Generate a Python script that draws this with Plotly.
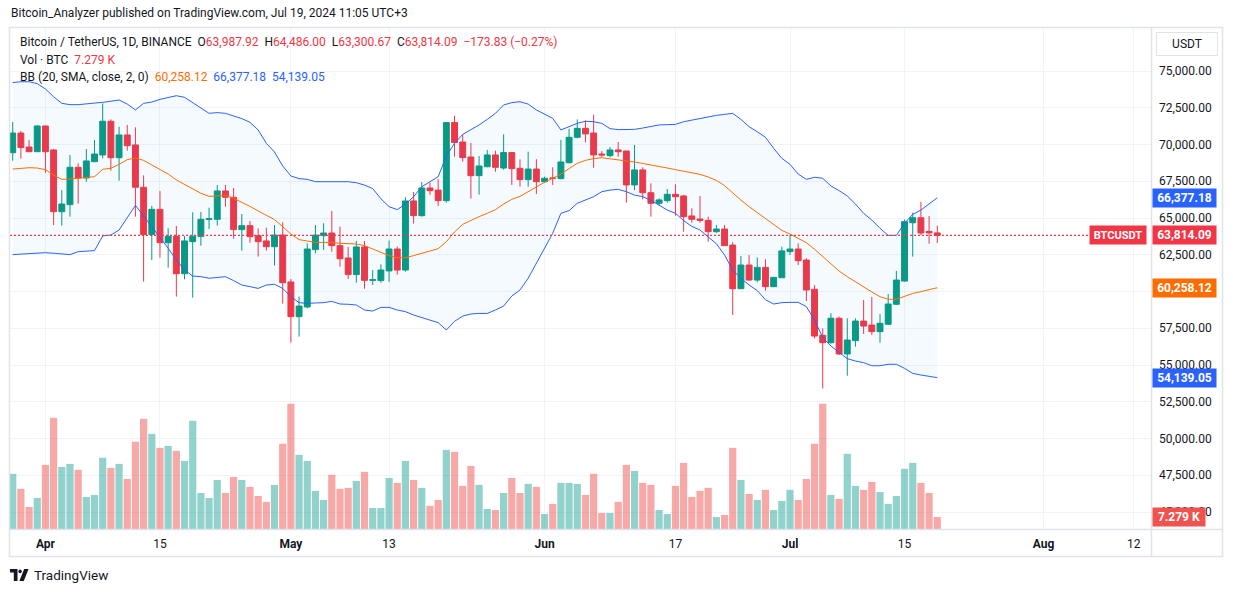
import plotly.graph_objects as go
import pandas as pd

# ---------------- data ----------------
start_date = "2024-03-28"

opens = [
    69445, 70780, 69830, 69510, 71260, 69630, 65430, 65910, 68450, 67720,
    68830, 69290, 71580, 69100, 70650, 69970, 67090, 63870, 65590, 63320,
    63750, 61210, 63390, 63750, 64910, 64910, 66840, 66410, 64210, 64480,
    63800, 63440, 63050, 63840, 60650, 58290, 58950, 62850, 63800, 63980,
    63120, 62280, 61150, 63030, 60760, 60740, 61400, 62890, 61460, 66160,
    65160, 67040, 66900, 66180, 71490, 70170, 69150, 67880, 68490, 69290,
    68400, 69450, 68380, 67610, 68330, 67470, 67720, 67680, 68760, 70490,
    71100, 70780, 69350, 69240, 69630, 69560, 67250, 68270, 66720, 66000,
    66180, 66610, 66500, 65140, 64930, 64840, 64070, 64250, 63160, 60190,
    61800, 60780, 61640, 60330, 60940, 62710, 62890, 62140, 60150, 57020,
    56520, 58180, 55750, 56660, 57990, 57720, 57270, 57770, 59130, 60710,
    64680, 65020, 64090, 63987.92]

highs = [
    71530, 70920, 70310, 71330, 71290, 69690, 66900, 69290, 68720, 69690,
    70310, 72800, 71710, 71210, 71330, 71170, 67900, 65820, 66840, 64300,
    64460, 63780, 65390, 65410, 65700, 67250, 67250, 67040, 65270, 64800,
    64300, 64340, 64520, 64700, 60850, 59650, 63280, 64520, 64640, 65480,
    64410, 63030, 63440, 63440, 61460, 61850, 63460, 63050, 66410, 66770,
    67450, 67400, 67650, 71500, 71960, 70690, 70100, 69220, 69630, 69580,
    70690, 69500, 68990, 69510, 69000, 67810, 68450, 70310, 71060, 71710,
    71640, 72030, 69560, 69830, 70170, 69560, 69970, 68450, 67360, 66340,
    66970, 67290, 66570, 65660, 66500, 65090, 64520, 64520, 63350, 62420,
    62480, 62320, 62190, 61000, 63050, 63840, 63280, 62260, 60440, 57490,
    58520, 58290, 58180, 58180, 59420, 59630, 58470, 59830, 61400, 64900,
    65360, 66090, 65140, 64486.00]

lows = [
    68900, 69040, 69500, 69500, 68080, 64520, 64480, 65090, 65980, 67470,
    68800, 69060, 68220, 67540, 69580, 65090, 60670, 62140, 62300, 61620,
    59650, 60830, 59580, 63120, 64250, 64480, 65770, 63590, 62780, 63320,
    62370, 62780, 61760, 59170, 56520, 56930, 58850, 62600, 62820, 62710,
    61690, 60850, 60600, 60190, 60440, 60600, 60650, 61150, 61350, 64620,
    65090, 66570, 65820, 66040, 69170, 68830, 66320, 66590, 68450, 68150,
    68290, 67250, 67130, 67130, 66630, 67400, 67250, 67630, 68720, 70420,
    70150, 68420, 69130, 69130, 69170, 66040, 66900, 66270, 65090, 65840,
    66040, 65160, 64070, 64680, 64680, 63390, 63980, 63120, 58400, 60190,
    60740, 60620, 60060, 60300, 60940, 62480, 61800, 59350, 56810, 53410,
    56450, 55680, 54270, 56250, 57110, 57040, 56520, 57720, 59080, 60670,
    62370, 63840, 63250, 63300.67]

closes = [
    70780, 69790, 69510, 71260, 69510, 65430, 65950, 68450, 67720, 68880,
    69350, 71580, 69100, 70650, 69920, 67090, 63870, 65590, 63320, 63750,
    61210, 63440, 63750, 64910, 64950, 66840, 66410, 64210, 64480, 63730,
    63390, 63050, 63840, 60600, 58290, 59010, 62890, 63840, 63980, 63120,
    62230, 61150, 63030, 60760, 60800, 61460, 62890, 61460, 66160, 65160,
    67040, 66860, 66180, 71490, 70130, 69110, 67880, 68540, 69290, 68450,
    69450, 68360, 67610, 68330, 67470, 67700, 67700, 68810, 70490, 71100,
    70720, 69290, 69290, 69630, 69510, 67250, 68270, 66720, 66000, 66230,
    66610, 66450, 65090, 64910, 64840, 64070, 64250, 63120, 60190, 61800,
    60780, 61640, 60330, 60960, 62760, 62890, 62100, 60100, 56970, 56520,
    58180, 55750, 56700, 57990, 57650, 57270, 57840, 59150, 60780, 64750,
    65020, 63980, 63987.92, 63814.09]

# volume in thousands of BTC
volumes_k = [
    33.4, 24.3, 13.3, 18.8, 38.8, 67.3, 37.6, 39.4, 35.8, 19.4,
    20.6, 43.1, 37.0, 39.4, 30.3, 52.8, 66.7, 57.6, 49.1, 50.3,
    47.3, 41.2, 65.5, 21.8, 18.8, 29.7, 21.8, 31.5, 29.7, 25.5,
    20.0, 16.4, 26.7, 51.6, 75.8, 44.9, 41.2, 23.1, 17.6, 32.8,
    24.3, 24.9, 29.1, 34.6, 12.7, 12.7, 30.9, 27.9, 41.2, 29.7,
    24.9, 14.0, 17.6, 47.9, 46.7, 26.1, 38.2, 26.7, 12.1, 11.5,
    21.8, 30.9, 21.8, 27.3, 25.5, 9.1, 15.2, 27.9, 27.9, 27.3,
    20.6, 33.4, 9.7, 9.7, 16.4, 38.8, 35.2, 27.9, 26.7, 11.5,
    9.1, 26.1, 40.0, 19.4, 23.1, 24.9, 7.3, 8.5, 49.1, 29.7,
    21.2, 17.6, 23.7, 11.5, 17.0, 23.7, 17.6, 30.3, 51.6, 75.8,
    20.6, 18.2, 45.5, 26.1, 23.7, 28.5, 22.4, 15.2, 20.0, 36.4,
    40.0, 27.9, 21.8, 7.279]

bb_upper = [
    74210, 74270, 74270, 74140, 73780, 73250, 72800, 72710, 72710, 72750,
    72820, 72870, 72940, 73030, 72750, 72350, 72800, 72890, 73070, 73210,
    73320, 73210, 72850, 72440, 72120, 72170, 72120, 71940, 71760, 71510,
    70990, 70080, 69490, 68540, 67860, 67680, 67630, 67470, 67470, 67470,
    67470, 67470, 67400, 67240, 67000, 66310, 65770, 65570, 65950, 66450,
    67130, 67470, 67810, 69220, 70080, 70690, 70990, 71330, 71710, 72120,
    72690, 72850, 72910, 72750, 72350, 72070, 71780, 70990, 71210, 71440,
    71580, 71550, 71440, 71080, 71010, 71030, 71030, 71120, 71210, 71330,
    71350, 71370, 71550, 71670, 71780, 71890, 71980, 72050, 72120, 71710,
    71210, 70870, 70490, 69740, 69060, 68650, 67990, 67630, 67770, 67700,
    67180, 66860, 66500, 65950, 65320, 64860, 64300, 63820, 63820, 64640,
    65250, 65540, 65950, 66377.18]

bb_basis = [
    68330, 68380, 68420, 68400, 68290, 67920, 67630, 67650, 67720, 67740,
    67810, 68310, 68380, 68650, 68970, 69080, 68920, 68610, 68310, 67990,
    67590, 67290, 66970, 66680, 66470, 66520, 66540, 66340, 66090, 65790,
    65480, 65160, 64890, 64410, 63910, 63530, 63410, 63340, 63340, 63340,
    63280, 63250, 63230, 63120, 62890, 62640, 62440, 62300, 62300, 62440,
    62600, 62750, 62910, 63390, 64050, 64570, 64840, 65090, 65320, 65570,
    65950, 66270, 66470, 66790, 67150, 67430, 67700, 67990, 68360, 68720,
    68920, 69040, 69100, 69010, 68950, 68880, 68810, 68720, 68610, 68510,
    68400, 68290, 68170, 68060, 67970, 67790, 67560, 67200, 66700, 66220,
    65770, 65360, 64950, 64550, 64160, 63910, 63640, 63320, 62870, 62370,
    61920, 61390, 61010, 60650, 60310, 59970, 59650, 59470, 59470, 59690,
    59870, 59990, 60120, 60258.12]

bb_lower = [
    62510, 62530, 62550, 62600, 62640, 62600, 62550, 62510, 62710, 62750,
    62780, 63780, 63840, 64180, 65050, 65860, 65140, 64410, 63730, 62940,
    62140, 61460, 61050, 61010, 60900, 60960, 61010, 60740, 60440, 60330,
    60210, 60440, 60490, 60210, 59650, 59240, 59190, 59220, 59240, 59330,
    59150, 59130, 59080, 58740, 58670, 58920, 58920, 58740, 58630, 58400,
    58240, 58060, 57880, 57380, 57970, 58330, 58470, 58510, 58510, 58740,
    59010, 59690, 60100, 60900, 61920, 62940, 63960, 65320, 65500, 66000,
    66220, 66450, 66790, 66900, 66950, 66790, 66560, 66450, 66200, 65860,
    65540, 65320, 64820, 64430, 64180, 63710, 63250, 62480, 61460, 60900,
    60440, 60060, 59440, 59150, 59240, 59260, 59260, 58970, 58060, 56860,
    56290, 55860, 55430, 55270, 55160, 54950, 54950, 55050, 55050, 54770,
    54430, 54320, 54230, 54139.05]

price_ticks = [45000, 47500, 50000, 52500, 55000, 57500, 60000,
               62500, 65000, 67500, 70000, 72500, 75000]
# 60,000 is hidden behind the basis label in the reference
hidden_ticks = [60000]
x_tick_dates = ["2024-04-01", "2024-04-15", "2024-05-01", "2024-05-13",
                "2024-06-01", "2024-06-17", "2024-07-01", "2024-07-15",
                "2024-08-01", "2024-08-12"]
x_tick_labels = ["Apr", "15", "May", "13", "Jun", "17", "Jul", "15", "Aug", "12"]

# ---------------- style ----------------
UP = "#089981"
DOWN = "#f23645"
VOL_UP = "rgba(38,166,154,0.5)"
VOL_DOWN = "rgba(239,83,80,0.5)"
BLUE = "#2962ff"
ORANGE = "#ff6d00"
TXT = "#131722"
GRID = "#f0f3fa"
BORDER = "#e0e3eb"
FONT = "Roboto, 'Noto Sans', sans-serif"

W, H = 1233, 592
L, R, T, B = 10, 1151, 28, 529
PW, PH = R - L, B - T


def px(x):
    return (x - L) / PW


def py(y):
    return (B - y) / PH


dates = pd.date_range(start_date, periods=len(closes), freq="D")
vol_colors = [VOL_UP if c >= o else VOL_DOWN for o, c in zip(opens, closes)]

fig = go.Figure()
fig.add_trace(go.Bar(x=dates, y=volumes_k, marker=dict(color=vol_colors, line=dict(width=0)),
                     xaxis="x", yaxis="y", hoverinfo="skip"))
fig.add_trace(go.Candlestick(
    x=dates, open=opens, high=highs, low=lows, close=closes,
    xaxis="x", yaxis="y2",
    increasing=dict(line=dict(color=UP, width=1), fillcolor=UP),
    decreasing=dict(line=dict(color=DOWN, width=1), fillcolor=DOWN),
    whiskerwidth=0, hoverinfo="skip"))
fig.add_trace(go.Scatter(x=dates, y=bb_upper, mode="lines", xaxis="x", yaxis="y2",
                         line=dict(color=BLUE, width=1), hoverinfo="skip"))
fig.add_trace(go.Scatter(x=dates, y=bb_lower, mode="lines", xaxis="x", yaxis="y2",
                         line=dict(color=BLUE, width=1), fill="tonexty",
                         fillcolor="rgba(33,150,243,0.05)", hoverinfo="skip"))
fig.add_trace(go.Scatter(x=dates, y=bb_basis, mode="lines", xaxis="x", yaxis="y2",
                         line=dict(color=ORANGE, width=1), hoverinfo="skip"))

tick_text = ["<b>%s</b>" % t if t.isalpha() else t for t in x_tick_labels]
price_text = ["" if v in hidden_ticks else format(v, ",.2f") for v in price_ticks]

fig.update_layout(
    width=W, height=H,
    margin=dict(l=L, r=W - R, t=T, b=H - B, pad=0),
    paper_bgcolor="white", plot_bgcolor="white",
    showlegend=False, hovermode=False,
    bargap=0.12, boxgap=0.2, boxgroupgap=0.1,
    font=dict(family=FONT, color=TXT, size=12),
    xaxis=dict(type="date", range=["2024-03-27 16:05", "2024-08-14 02:53"],
               rangeslider=dict(visible=False), showgrid=True, gridcolor=GRID,
               gridwidth=1, zeroline=False, showline=False, ticks="",
               tickvals=x_tick_dates, ticktext=tick_text,
               tickfont=dict(size=12, color=TXT, family=FONT), ticklabelstandoff=6),
    yaxis=dict(range=[0, 4.0 * max(volumes_k)], visible=False, showgrid=False,
               zeroline=False),
    yaxis2=dict(overlaying="y", side="right", range=[43844, 77925],
                tickvals=price_ticks, ticktext=price_text, showgrid=True,
                gridcolor=GRID, gridwidth=1, zeroline=False, showline=False,
                ticks="", ticklabelstandoff=7,
                tickfont=dict(size=12, color=TXT, family=FONT)),
)

last_o, last_h, last_l, last_c = opens[-1], highs[-1], lows[-1], closes[-1]
prev_c = closes[-2]
chg = last_c - prev_c
pct = chg / prev_c * 100


def fmt_signed(v, spec):
    s = format(v, spec)
    return s.replace("-", "\u2212")


def red(s):
    return "<span style='color:%s'>%s</span>" % (DOWN if chg < 0 else UP, s)


shapes = [
    dict(type="line", xref="paper", yref="y2", x0=0, x1=px(1093), y0=last_c, y1=last_c,
         line=dict(color=DOWN, width=1.2, dash="2px,2px"), layer="above"),
    dict(type="rect", xref="paper", yref="paper", x0=px(9.5), x1=px(1222.5),
         y0=py(556.5), y1=py(27.5), line=dict(color=BORDER, width=1.5)),
    dict(type="line", xref="paper", yref="paper", x0=px(1151.5), x1=px(1151.5),
         y0=py(556.5), y1=py(27.5), line=dict(color=BORDER, width=1.5)),
    dict(type="line", xref="paper", yref="paper", x0=px(9.5), x1=px(1222.5),
         y0=py(529.5), y1=py(529.5), line=dict(color=BORDER, width=1.5)),
]


# TradingView logo (footer)
def pth(points):
    return "M " + " L ".join("%f,%f" % (px(a), py(b)) for a, b in points) + " Z"


shapes.append(dict(type="path", xref="paper", yref="paper",
                   path=pth([(10, 569), (17.5, 569), (17.5, 581), (13.8, 581),
                             (13.8, 572.6), (10, 572.6)]),
                   fillcolor=TXT, line=dict(width=0)))
shapes.append(dict(type="circle", xref="paper", yref="paper",
                   x0=px(18.4), x1=px(21.8), y0=py(573.2), y1=py(569.6),
                   fillcolor=TXT, line=dict(width=0)))
shapes.append(dict(type="path", xref="paper", yref="paper",
                   path=pth([(24.2, 569), (28.6, 569), (23.8, 581), (19.4, 581)]),
                   fillcolor=TXT, line=dict(width=0)))
fig.update_layout(shapes=shapes)

ann = []
ann.append(dict(text="Bitcoin_Analyzer published on TradingView.com, Jul 19, 2024 11:05 UTC+3",
                xref="paper", yref="paper", x=px(9), y=py(13), xanchor="left",
                yanchor="middle", showarrow=False, font=dict(size=12, color=TXT)))
line1 = ("Bitcoin / TetherUS, 1D, BINANCE&nbsp; O" + red(format(last_o, ",.2f"))
         + "&nbsp; H" + red(format(last_h, ",.2f"))
         + "&nbsp; L" + red(format(last_l, ",.2f"))
         + "&nbsp; C" + red(format(last_c, ",.2f"))
         + "&nbsp; " + red(fmt_signed(chg, ",.2f") + " (" + fmt_signed(pct, ".2f") + "%)"))
ann.append(dict(text=line1, xref="paper", yref="paper", x=px(18), y=py(42.5),
                xanchor="left", yanchor="middle", showarrow=False,
                font=dict(size=12, color=TXT)))
line2 = ("Vol \u00b7 BTC&nbsp; <span style='color:%s'>%s K</span>"
         % (DOWN, format(volumes_k[-1], ".3f")))
ann.append(dict(text=line2, xref="paper", yref="paper", x=px(18), y=py(60),
                xanchor="left", yanchor="middle", showarrow=False,
                font=dict(size=12, color=TXT)))
line3 = ("BB (20, SMA, close, 2, 0)&nbsp; <span style='color:%s'>%s</span>&nbsp; "
         "<span style='color:%s'>%s</span>&nbsp; <span style='color:%s'>%s</span>"
         % (ORANGE, format(bb_basis[-1], ",.2f"), BLUE, format(bb_upper[-1], ",.2f"),
            BLUE, format(bb_lower[-1], ",.2f")))
ann.append(dict(text=line3, xref="paper", yref="paper", x=px(18), y=py(77),
                xanchor="left", yanchor="middle", showarrow=False,
                font=dict(size=12, color=TXT)))

# USDT box
ann.append(dict(text="USDT", xref="paper", yref="paper", x=px(1187), y=py(44),
                xanchor="center", yanchor="middle", showarrow=False,
                width=58, height=20, bordercolor=BORDER, borderwidth=1, borderpad=1,
                bgcolor="white", font=dict(size=12, color=TXT)))


def axis_label(value, text, color, yref="y2", width=61):
    return dict(text="<b>%s</b>" % text, xref="paper", yref=yref, x=px(1152.5), y=value,
                xanchor="left", yanchor="middle", showarrow=False, width=width,
                height=16, borderpad=1, bgcolor=color, align="center",
                font=dict(size=12, color="white"))


ann.append(axis_label(bb_upper[-1], format(bb_upper[-1], ",.2f"), BLUE))
ann.append(axis_label(last_c, format(last_c, ",.2f"), DOWN))
ann.append(axis_label(bb_basis[-1], format(bb_basis[-1], ",.2f"), ORANGE))
ann.append(axis_label(bb_lower[-1], format(bb_lower[-1], ",.2f"), BLUE))
ann.append(axis_label(volumes_k[-1], format(volumes_k[-1], ".3f") + " K", "#ef5350",
                      yref="y", width=50))
ann.append(dict(text="<b>BTCUSDT</b>", xref="paper", yref="y2", x=px(1147), y=last_c,
                xanchor="right", yanchor="middle", showarrow=False, width=54,
                height=16, borderpad=1, bgcolor=DOWN, align="center",
                font=dict(size=11, color="white")))

# footer text
ann.append(dict(text="TradingView", xref="paper", yref="paper", x=px(32), y=py(575),
                xanchor="left", yanchor="middle", showarrow=False,
                font=dict(size=13.5, color=TXT)))

fig.update_layout(annotations=ann)

fig.write_html("out.html", config={"displayModeBar": False},
               post_script="document.body.style.margin='0';document.body.style.overflow='hidden';")
